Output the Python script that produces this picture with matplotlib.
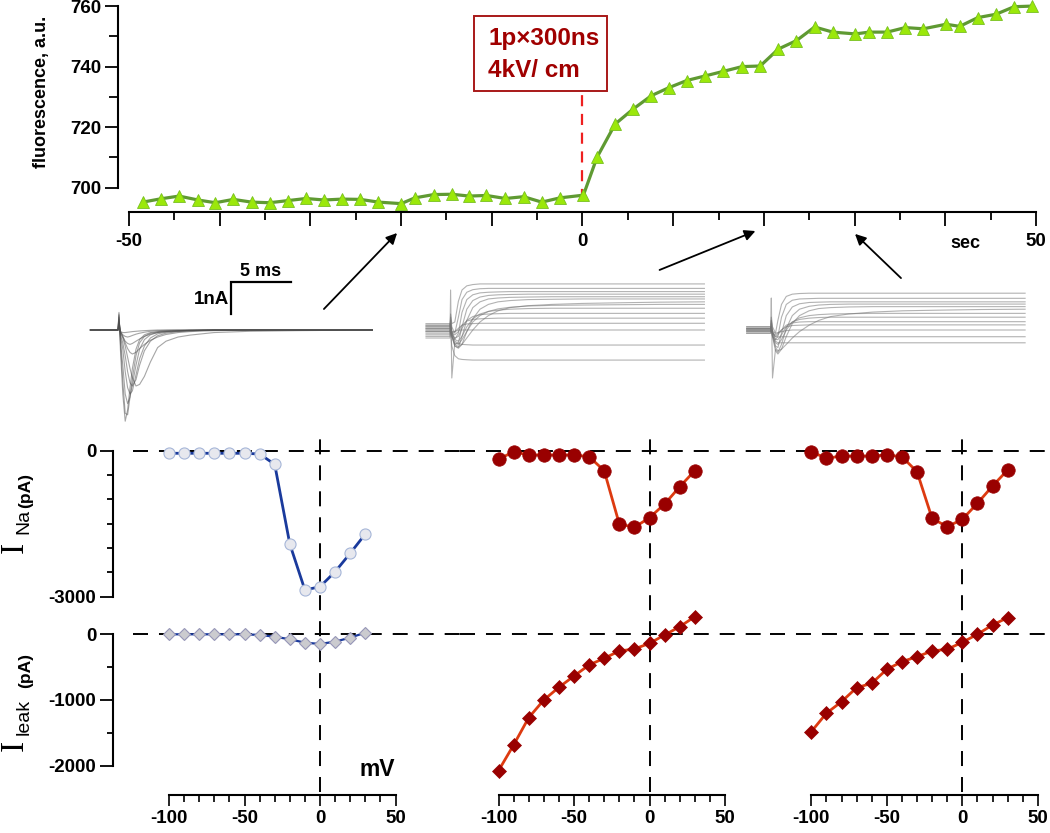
import matplotlib
matplotlib.use('Agg')
import matplotlib.pyplot as plt
from matplotlib.patches import Rectangle, FancyArrowPatch
from matplotlib.ticker import FixedLocator, FixedFormatter, NullFormatter

plt.rcParams['font.family'] = ['Liberation Sans', 'DejaVu Sans']
plt.rcParams['lines.scale_dashes'] = False
plt.rcParams['axes.unicode_minus'] = False

# ---------------- data ----------------
fluor_time = [-48.5, -46.5, -44.5, -42.4, -40.5, -38.5, -36.5, -34.5, -32.5, -30.5,
              -28.5, -26.5, -24.5, -22.5, -20.0, -18.5, -16.4, -14.4, -12.5, -10.6,
              -8.5, -6.5, -4.5, -2.5, 0.1,
              1.6, 3.6, 5.6, 7.6, 9.5, 11.5, 13.5, 15.5, 17.6, 19.6,
              21.6, 23.6, 25.6, 27.6, 30.1, 31.6, 33.6, 35.6, 37.6, 40.1,
              41.6, 43.6, 45.6, 47.6, 49.6]
fluor = [695.2, 696.3, 697.2, 695.9, 695.0, 696.1, 695.2, 695.0, 695.7, 696.4,
         695.9, 696.2, 696.1, 695.2, 694.7, 696.6, 697.7, 697.8, 697.2, 697.4,
         696.4, 697.0, 695.2, 696.6, 697.5,
         710.0, 721.0, 726.0, 730.4, 733.0, 735.4, 736.9, 738.4, 740.0, 740.2,
         745.8, 748.6, 753.1, 751.4, 750.8, 751.4, 751.4, 752.9, 752.5, 754.0,
         753.3, 756.2, 757.3, 759.8, 760.0]
fluor_yticks = [700, 720, 740, 760]
fluor_xticklabels = ['-50', '', '', '', '', '0', '', '', '', '', '50']

voltage = [-100, -90, -80, -70, -60, -50, -40, -30, -20, -10, 0, 10, 20, 30]
ina_ctrl = [-53, -53, -53, -53, -53, -53, -68, -280, -1917, -2862, -2795, -2487, -2108, -1712]
ina_mid = [-177, -21, -88, -88, -88, -88, -123, -411, -1506, -1574, -1377, -1096, -740, -411]
ina_right = [-21, -157, -109, -109, -109, -88, -123, -432, -1390, -1562, -1410, -1082, -726, -397]
leak_ctrl = [0, 0, 0, 0, 0, 0, -10, -36, -76, -127, -147, -112, -51, 25]
leak_mid = [-2076, -1685, -1269, -1000, -807, -635, -467, -365, -254, -224, -137, -11, 116, 268]
leak_right = [-1482, -1202, -1026, -813, -746, -533, -417, -341, -254, -228, -122, 0, 142, 253]

# current traces (ms, nA)
tL = [-2.3, 0.0, 0.08, 0.2, 0.4, 0.6, 0.8, 1.0, 1.2, 1.5, 1.8, 2.2, 2.7, 3.3, 4.0, 5.0, 6.0, 8.0, 11.0, 15.0, 21.2]
traces_left = [
    [0, 0, 0.55, -0.6, -2.0, -2.85, -2.5, -1.8, -1.2, -0.6, -0.3, -0.15, -0.08, -0.05, -0.03, -0.02, -0.01, 0, 0, 0, 0],
    [0, 0, 0.5, -0.4, -1.6, -2.6, -2.65, -2.1, -1.5, -0.8, -0.4, -0.2, -0.1, -0.06, -0.04, -0.02, -0.01, 0, 0, 0, 0],
    [0, 0, 0.45, -0.3, -1.1, -2.0, -2.3, -2.1, -1.7, -1.1, -0.6, -0.3, -0.15, -0.08, -0.05, -0.03, -0.02, 0, 0, 0, 0],
    [0, 0, 0.4, -0.2, -0.6, -1.3, -1.8, -2.0, -1.9, -1.4, -0.9, -0.5, -0.25, -0.12, -0.07, -0.04, -0.02, 0, 0, 0, 0],
    [0, 0, 0.35, -0.15, -0.4, -0.8, -1.3, -1.65, -1.75, -1.55, -1.1, -0.65, -0.35, -0.18, -0.1, -0.05, -0.03, 0, 0, 0, 0],
    [0, 0, 0.3, -0.1, -0.25, -0.5, -0.85, -1.2, -1.5, -1.75, -1.7, -1.45, -1.0, -0.55, -0.35, -0.22, -0.16, -0.08, -0.04, -0.02, 0],
    [0, 0, 0.25, -0.05, -0.2, -0.4, -0.58, -0.7, -0.75, -0.7, -0.58, -0.45, -0.32, -0.22, -0.14, -0.08, -0.05, -0.02, 0, 0, 0],
    [0, 0, 0.2, -0.05, -0.2, -0.35, -0.42, -0.45, -0.42, -0.35, -0.28, -0.2, -0.13, -0.08, -0.05, -0.03, -0.01, 0, 0, 0, 0],
    [0, 0, 0.15, -0.05, -0.15, -0.2, -0.22, -0.2, -0.17, -0.13, -0.1, -0.07, -0.04, -0.02, -0.01, 0, 0, 0, 0, 0, 0],
    [0, 0, 0.1, -0.05, -0.08, -0.08, -0.07, -0.06, -0.05, -0.04, -0.03, -0.02, -0.01, 0, 0, 0, 0, 0, 0, 0, 0],
]
tM = [-2.0, 0.0, 0.05, 0.15, 0.4, 0.7, 1.0, 1.4, 1.9, 2.5, 3.2, 4.0, 5.0, 6.5, 8.5, 11.0, 14.0, 17.5, 21.2]
traces_mid = [
    [0.1, 0.1, 0.5, 0.2, 0.25, 0.9, 1.25, 1.38, 1.42, 1.44, 1.44, 1.44, 1.44, 1.44, 1.44, 1.44, 1.44, 1.44, 1.44],
    [0.05, 0.05, 0.4, 0.1, -0.1, 0.4, 0.95, 1.18, 1.26, 1.29, 1.3, 1.3, 1.3, 1.3, 1.3, 1.3, 1.3, 1.3, 1.3],
    [0.15, 0.15, 0.3, 0.0, -0.3, -0.1, 0.55, 0.95, 1.1, 1.16, 1.18, 1.19, 1.2, 1.2, 1.2, 1.2, 1.2, 1.2, 1.2],
    [-0.1, -0.1, 0.2, -0.1, -0.45, -0.4, 0.1, 0.65, 0.92, 1.03, 1.08, 1.1, 1.11, 1.12, 1.12, 1.12, 1.12, 1.12, 1.12],
    [0.0, 0.0, 0.2, -0.15, -0.5, -0.55, -0.2, 0.3, 0.7, 0.88, 0.97, 1.0, 1.02, 1.03, 1.04, 1.04, 1.04, 1.04, 1.04],
    [-0.2, -0.2, 0.1, -0.2, -0.5, -0.57, -0.45, -0.05, 0.35, 0.65, 0.8, 0.88, 0.92, 0.95, 0.96, 0.97, 0.97, 0.97, 0.97],
    [0.2, 0.2, 0.1, -0.2, -0.45, -0.52, -0.45, -0.25, 0.0, 0.25, 0.45, 0.6, 0.7, 0.76, 0.8, 0.83, 0.85, 0.87, 0.88],
    [-0.05, -0.05, 1.25, -1.5, -0.4, -0.45, -0.3, -0.05, 0.25, 0.45, 0.58, 0.66, 0.71, 0.75, 0.77, 0.78, 0.79, 0.8, 0.8],
    [0.1, 0.1, 0.1, -0.1, -0.3, -0.35, -0.2, 0.1, 0.35, 0.5, 0.58, 0.62, 0.65, 0.67, 0.68, 0.68, 0.68, 0.68, 0.68],
    [-0.15, -0.15, 0.05, -0.15, -0.25, -0.2, 0.05, 0.3, 0.42, 0.48, 0.5, 0.51, 0.52, 0.52, 0.52, 0.52, 0.52, 0.52, 0.52],
    [0.05, 0.05, 0.05, -0.1, -0.15, -0.05, 0.15, 0.28, 0.33, 0.35, 0.36, 0.37, 0.37, 0.37, 0.37, 0.37, 0.37, 0.37, 0.37],
    [-0.25, -0.25, 0.0, -0.1, -0.05, 0.05, 0.15, 0.19, 0.2, 0.21, 0.21, 0.21, 0.21, 0.21, 0.21, 0.21, 0.21, 0.21, 0.21],
    [0.15, 0.15, 0.05, -0.05, -0.05, 0.0, 0.0, 0.0, 0.0, 0.0, 0.0, 0.0, 0.0, 0.0, 0.0, 0.0, 0.0, 0.0, 0.0],
    [-0.05, -0.05, 0.0, -0.2, -0.35, -0.42, -0.45, -0.46, -0.47, -0.47, -0.47, -0.47, -0.47, -0.47, -0.47, -0.47, -0.47, -0.47, -0.47],
    [0.0, 0.0, -0.1, -0.5, -0.8, -0.9, -0.92, -0.93, -0.94, -0.94, -0.94, -0.94, -0.94, -0.94, -0.94, -0.94, -0.94, -0.94, -0.94],
]
tR = [-2.0, 0.0, 0.05, 0.15, 0.4, 0.6, 0.9, 1.3, 1.8, 2.4, 3.2, 4.0, 5.0, 6.5, 8.5, 11.0, 14.0, 17.5, 21.2]
traces_right = [
    [0.0, 0.0, 0.4, 0.1, -0.1, 0.3, 0.8, 1.05, 1.12, 1.14, 1.15, 1.15, 1.15, 1.15, 1.15, 1.15, 1.15, 1.15, 1.15],
    [0.05, 0.05, 0.3, 0.0, -0.3, -0.2, 0.4, 0.8, 0.93, 0.97, 0.98, 0.99, 0.99, 0.99, 0.99, 0.99, 0.99, 0.99, 0.99],
    [-0.05, -0.05, 0.3, -0.1, -0.5, -0.55, -0.1, 0.45, 0.72, 0.82, 0.86, 0.87, 0.88, 0.88, 0.88, 0.88, 0.88, 0.88, 0.88],
    [0.1, 0.1, 1.0, -1.5, -0.6, -0.7, -0.45, 0.05, 0.45, 0.65, 0.74, 0.78, 0.8, 0.81, 0.81, 0.81, 0.81, 0.81, 0.81],
    [-0.1, -0.1, 0.2, -0.2, -0.65, -0.75, -0.6, -0.2, 0.2, 0.45, 0.6, 0.67, 0.7, 0.72, 0.73, 0.73, 0.73, 0.73, 0.73],
    [0.05, 0.05, 0.1, -0.2, -0.55, -0.65, -0.6, -0.45, -0.25, -0.05, 0.15, 0.3, 0.42, 0.5, 0.56, 0.6, 0.62, 0.64, 0.65],
    [-0.05, -0.05, 0.1, -0.15, -0.4, -0.45, -0.3, 0.0, 0.25, 0.38, 0.45, 0.48, 0.5, 0.51, 0.52, 0.52, 0.52, 0.52, 0.52],
    [0.0, 0.0, 0.1, -0.1, -0.3, -0.3, -0.15, 0.1, 0.25, 0.33, 0.37, 0.39, 0.4, 0.4, 0.4, 0.4, 0.4, 0.4, 0.4],
    [0.1, 0.1, 0.1, -0.1, -0.2, -0.15, 0.0, 0.15, 0.22, 0.25, 0.26, 0.26, 0.26, 0.26, 0.26, 0.26, 0.26, 0.26, 0.26],
    [-0.1, -0.1, 0.05, -0.1, -0.15, -0.1, 0.0, 0.1, 0.14, 0.15, 0.16, 0.16, 0.16, 0.16, 0.16, 0.16, 0.16, 0.16, 0.16],
    [0.05, 0.05, 0.05, -0.05, -0.1, -0.08, -0.05, -0.02, 0.0, 0.0, 0.0, 0.0, 0.0, 0.0, 0.0, 0.0, 0.0, 0.0, 0.0],
    [0.0, 0.0, 0.0, -0.1, -0.2, -0.22, -0.21, -0.21, -0.21, -0.21, -0.21, -0.21, -0.21, -0.21, -0.21, -0.21, -0.21, -0.21, -0.21],
    [0.0, 0.0, -0.05, -0.2, -0.35, -0.4, -0.4, -0.4, -0.4, -0.4, -0.4, -0.4, -0.4, -0.4, -0.4, -0.4, -0.4, -0.4, -0.4],
]

# ---------------- layout helpers ----------------
W, H = 1050, 833
fig = plt.figure(figsize=(W / 100, H / 100), dpi=100)


def px_axes(x0, y0, x1, y1):
    return fig.add_axes([x0 / W, 1 - y1 / H, (x1 - x0) / W, (y1 - y0) / H])


def fx(x):
    return x / W


def fy(y):
    return 1 - y / H


# ---------------- top fluorescence panel ----------------
ax = px_axes(117.6, 4, 1040, 212)
ax.set_xlim((117.6 - 582.5) / 9.067, (1040 - 582.5) / 9.067)
ax.set_ylim(700 - (212 - 187.6) / 3.025, 700 + (187.6 - 4) / 3.025)
ax.patch.set_alpha(0)
for s in ['top', 'right']:
    ax.spines[s].set_visible(False)
ax.spines['left'].set_bounds(700, 760)
ax.spines['bottom'].set_bounds(-50, 50)
for s in ['left', 'bottom']:
    ax.spines[s].set_linewidth(1.5)
ax.yaxis.set_major_locator(FixedLocator(fluor_yticks))
ax.yaxis.set_minor_locator(FixedLocator([710, 730, 750]))
ax.xaxis.set_major_locator(FixedLocator(list(range(-50, 51, 10))))
ax.xaxis.set_major_formatter(FixedFormatter(fluor_xticklabels))
ax.xaxis.set_minor_locator(FixedLocator(list(range(-45, 50, 10))))
ax.tick_params(axis='y', which='major', length=9.4, width=1.3, pad=2.5, direction='out')
ax.tick_params(axis='y', which='minor', length=6.3, width=1.3, direction='out')
ax.tick_params(axis='x', which='major', length=10, width=1.3, pad=5, direction='out')
ax.tick_params(axis='x', which='minor', length=6, width=1.3, direction='out')
for lab in ax.get_xticklabels() + ax.get_yticklabels():
    lab.set_fontsize(13.5)
    lab.set_fontweight('bold')

ax.plot([0, 0], [696, 730.7], color='#ee2020', lw=1.6, ls=(0, (8, 5.5)), zorder=1)
ax.plot(fluor_time, fluor, color='#5f9a32', lw=2.3, zorder=2, clip_on=False)
ax.plot(fluor_time, fluor, ls='none', marker='^', ms=8.5, mfc='#9be80a', mec='#78c020',
        mew=0.6, zorder=3, clip_on=False)

fig.text(fx(41.5), fy(92), 'fluorescence, a.u.', rotation=90, fontsize=13,
         fontweight='bold', ha='center', va='center')
fig.text(fx(965), fy(243), 'sec', fontsize=13, fontweight='bold', ha='center', va='center')

box = Rectangle((fx(474), fy(91)), (607 - 474) / W, (91 - 16) / H, transform=fig.transFigure,
                fill=False, edgecolor='#a81818', lw=1.4)
fig.add_artist(box)
fig.text(fx(488), fy(45.5), '1p\u00d7300ns', color='#a00000', fontsize=17.5,
         fontweight='bold', ha='left', va='baseline')
fig.text(fx(488), fy(77), '4kV/ cm', color='#a00000', fontsize=17.5,
         fontweight='bold', ha='left', va='baseline')

# ---------------- arrows ----------------
for (xa, ya), (xb, yb) in [((322, 311), (399, 231)), ((657, 271), (758, 230)), ((903, 280), (853, 232))]:
    arr = FancyArrowPatch((fx(xa), fy(ya)), (fx(xb), fy(yb)), transform=fig.transFigure,
                          arrowstyle='-|>', mutation_scale=16, lw=1.3, color='black')
    fig.add_artist(arr)

# ---------------- current traces ----------------
MS_PX = 12.0   # px per ms
NA_PX = 32.0   # px per nA


def trace_axes(x0, x1, onset_px, y0, y1, zero_px=330):
    a = px_axes(x0, y0, x1, y1)
    a.set_xlim((x0 - onset_px) / MS_PX, (x1 - onset_px) / MS_PX)
    a.set_ylim((zero_px - y1) / NA_PX, (zero_px - y0) / NA_PX)
    a.axis('off')
    a.patch.set_alpha(0)
    return a


axL = trace_axes(88, 380, 118, 258, 432)
for tr in traces_left:
    axL.plot(tL, tr, color='0.3', alpha=0.5, lw=0.8)
# scale bar: 5 ms, 1 nA
bar_t, bar_i = 9.42, 0.5
axL.plot([bar_t, bar_t, bar_t + 5], [bar_i, bar_i + 1, bar_i + 1], color='black', lw=1.6,
         solid_joinstyle='miter')
fig.text(fx(261), fy(271), '5 ms', fontsize=13, fontweight='bold', ha='center', va='center')
fig.text(fx(229), fy(300), '1nA', fontsize=13.5, fontweight='bold', ha='right', va='center')

axM = trace_axes(420, 712, 450, 268, 385)
for tr in traces_mid:
    axM.plot(tM, tr, color='0.45', alpha=0.55, lw=0.8)

axR = trace_axes(740, 1032, 770.7, 268, 385)
for tr in traces_right:
    axR.plot(tR, tr, color='0.45', alpha=0.55, lw=0.8)

# ---------------- I-V panels ----------------
zero_px = [320, 649.5, 962.3]
col_x = [(113, 460), (460, 770), (770, 1047)]
PX_MV = 1.51
NA_ZERO, NA_S = 450.7, 0.048667
LK_ZERO, LK_S = 634.3, 0.0657
DASH = (0, (10.8, 7.9))

ina_sets = [ina_ctrl, ina_mid, ina_right]
leak_sets = [leak_ctrl, leak_mid, leak_right]

for i in range(3):
    x0, x1 = col_x[i]
    z = zero_px[i]
    xlim = ((x0 - z) / PX_MV, (x1 - z) / PX_MV)

    # vertical dashed line at 0 mV
    av = px_axes(x0, 432, x1, 792)
    av.set_xlim(*xlim)
    av.set_ylim(0, 1)
    av.axis('off')
    av.patch.set_alpha(0)
    av.axvline(0, color='black', lw=1.4, ls=DASH)

    an = px_axes(x0, 430, x1, 605)
    an.set_xlim(*xlim)
    an.set_ylim((NA_ZERO - 605) / NA_S, (NA_ZERO - 430) / NA_S)
    al = px_axes(x0, 605, x1, 795)
    al.set_xlim(*xlim)
    al.set_ylim((LK_ZERO - 795) / LK_S, (LK_ZERO - 605) / LK_S)
    for a in (an, al):
        a.patch.set_alpha(0)
        for s in ['top', 'right']:
            a.spines[s].set_visible(False)
        a.spines['left'].set_linewidth(1.5)
        a.spines['bottom'].set_linewidth(1.5)

    hx0 = 133 if i == 0 else x0
    hx1 = x1
    for a in (an, al):
        a.axhline(0, xmin=(hx0 - x0) / (x1 - x0), xmax=(hx1 - x0) / (x1 - x0),
                  color='black', lw=1.4, ls=DASH, zorder=1)

    an.spines['bottom'].set_visible(False)
    an.set_xticks([])
    al.spines['bottom'].set_bounds(-100, 50)
    al.xaxis.set_major_locator(FixedLocator([-100, -50, 0, 50]))
    al.xaxis.set_minor_locator(FixedLocator(list(range(-90, 50, 10))))
    al.xaxis.set_minor_formatter(NullFormatter())
    al.tick_params(axis='x', which='major', length=8, width=1.2, pad=3, direction='out')
    al.tick_params(axis='x', which='minor', length=5, width=1.2, direction='out')
    for lab in al.get_xticklabels():
        lab.set_fontsize(13.5)
        lab.set_fontweight('bold')

    if i == 0:
        an.spines['left'].set_bounds(-3000, 0)
        an.yaxis.set_major_locator(FixedLocator([0, -3000]))
        an.yaxis.set_minor_locator(FixedLocator([-500, -1000, -1500, -2000, -2500]))
        al.spines['left'].set_bounds(-2000, 0)
        al.yaxis.set_major_locator(FixedLocator([0, -1000, -2000]))
        al.yaxis.set_minor_locator(FixedLocator([-500, -1500]))
        for a in (an, al):
            a.tick_params(axis='y', which='major', length=9.4, width=1.3, pad=2.5, direction='out')
            a.tick_params(axis='y', which='minor', length=4.5, width=1.3, direction='out')
            for lab in a.get_yticklabels():
                lab.set_fontsize(13.5)
                lab.set_fontweight('bold')
        an.plot(voltage, ina_sets[i], color='#1a3a9c', lw=2.0, marker='o', ms=8,
                mfc='#e7e8ee', mec='#a6b6d8', mew=0.8, zorder=3, clip_on=False)
        al.plot(voltage, leak_sets[i], color='#1a3a9c', lw=1.6, marker='D', ms=6.2,
                mfc='#cbcbcf', mec='#9696b8', mew=0.8, zorder=3, clip_on=False)
    else:
        for a in (an, al):
            a.spines['left'].set_visible(False)
            a.set_yticks([])
        an.plot(voltage, ina_sets[i], color='#dd3a10', lw=2.0, marker='o', ms=9.7,
                mfc='#990000', mec='#990000', mew=0.5, zorder=3, clip_on=False)
        al.plot(voltage, leak_sets[i], color='#dd3a10', lw=2.0, marker='D', ms=6.8,
                mfc='#990000', mec='#990000', mew=0.5, zorder=3, clip_on=False)

# axis titles of I-V panels
fig.text(fx(14), fy(547), 'I', family='Liberation Serif', fontsize=24, rotation=90,
         ha='center', va='center')
fig.text(fx(24), fy(521), 'Na', fontsize=14, rotation=90, ha='center', va='center')
fig.text(fx(26), fy(490), '(pA)', fontsize=12.5, fontweight='bold', rotation=90,
         ha='center', va='center')
fig.text(fx(14), fy(745), 'I', family='Liberation Serif', fontsize=24, rotation=90,
         ha='center', va='center')
fig.text(fx(24), fy(717), 'leak', fontsize=14, rotation=90, ha='center', va='center')
fig.text(fx(26), fy(670), '(pA)', fontsize=12.5, fontweight='bold', rotation=90,
         ha='center', va='center')
fig.text(fx(377), fy(770), 'mV', fontsize=16.5, fontweight='bold', ha='center', va='center')

fig.savefig('out.png', dpi=100)
